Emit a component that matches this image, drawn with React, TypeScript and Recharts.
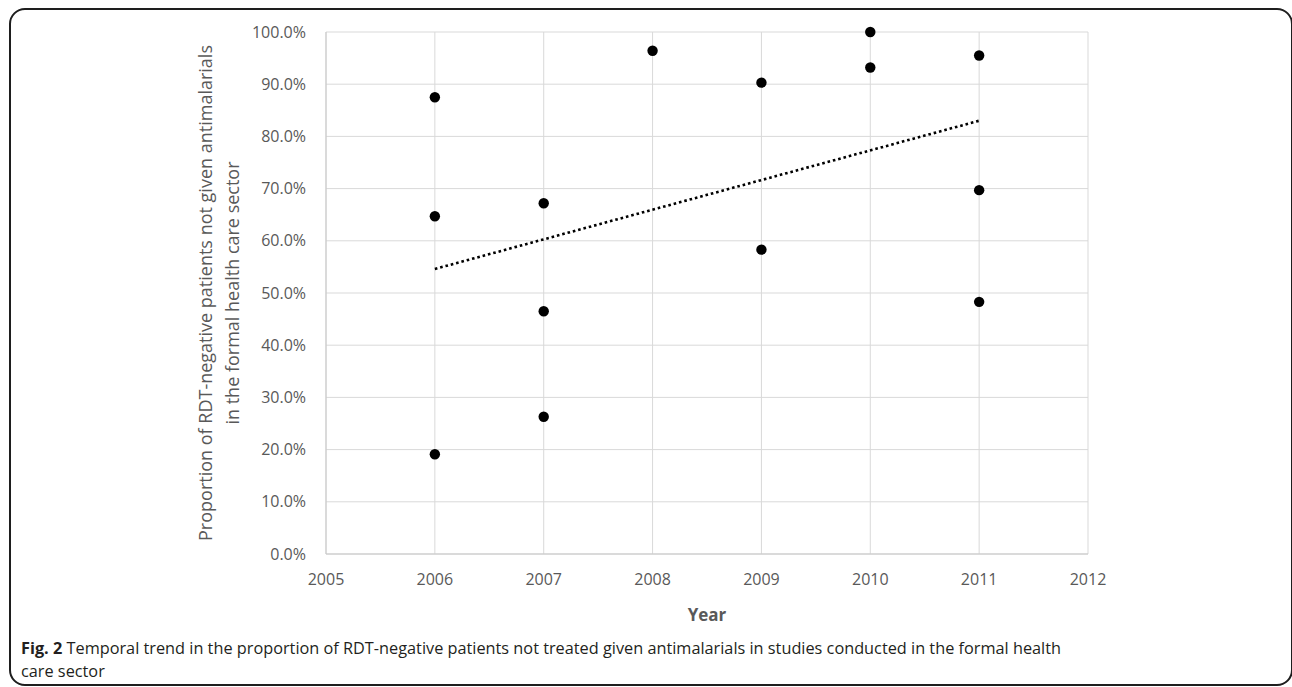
import React from 'react';
import { ScatterChart, Scatter, XAxis, YAxis, CartesianGrid } from 'recharts';

const years = [2005, 2006, 2007, 2008, 2009, 2010, 2011, 2012];
const percentTicks = [0, 10, 20, 30, 40, 50, 60, 70, 80, 90, 100];
const studyYears = [2006, 2006, 2006, 2007, 2007, 2007, 2008, 2009, 2009, 2010, 2010, 2011, 2011, 2011];
const proportions = [87.5, 64.7, 19.1, 67.2, 46.5, 26.3, 96.4, 90.3, 58.3, 100.0, 93.2, 95.5, 69.7, 48.3];
const trendYears = [2006, 2011];
const trendValues = [54.6, 83.0];

const yTitleLine1 = 'Proportion of RDT-negative patients not given antimalarials';
const yTitleLine2 = 'in the formal health care sector';
const xTitle = 'Year';
const captionBold = 'Fig. 2';
const captionLine1 = ' Temporal trend in the proportion of RDT-negative patients not treated given antimalarials in studies conducted in the formal health';
const captionLine2 = 'care sector';

const points = studyYears.map((x, i) => ({ x, y: proportions[i] }));
const trend = trendYears.map((x, i) => ({ x, y: trendValues[i] }));

const FONT = "'Open Sans', sans-serif";
const GREY_TEXT = '#595959';

const YTitle = (props: any) => {
  const vb = props.viewBox || {};
  const cy = (vb.y || 0) + (vb.height || 0) / 2;
  const x1 = 205;
  const x2 = 232;
  return (
    <g>
      <text
        x={x1}
        y={cy}
        transform={`rotate(-90 ${x1} ${cy})`}
        textAnchor="middle"
        dominantBaseline="central"
        fill={GREY_TEXT}
        fontSize={18}
        fontFamily={FONT}
      >
        {yTitleLine1}
      </text>
      <text
        x={x2}
        y={cy}
        transform={`rotate(-90 ${x2} ${cy})`}
        textAnchor="middle"
        dominantBaseline="central"
        fill={GREY_TEXT}
        fontSize={18}
        fontFamily={FONT}
      >
        {yTitleLine2}
      </text>
    </g>
  );
};

const XTitle = (props: any) => {
  const vb = props.viewBox || {};
  const cx = (vb.x || 0) + (vb.width || 0) / 2;
  return (
    <text
      x={cx}
      y={621}
      textAnchor="middle"
      fill={GREY_TEXT}
      fontSize={17}
      fontWeight="bold"
      fontFamily={FONT}
    >
      {xTitle}
    </text>
  );
};

const Dot = (props: any) => <circle cx={props.cx} cy={props.cy} r={5.2} fill="#000" />;
const NoDot = () => <g />;

export default function App() {
  return (
    <div style={{ position: 'absolute', left: 0, top: 0, width: 1292, height: 687, background: '#fff', overflow: 'hidden' }}>
      <div
        style={{
          position: 'absolute',
          left: 9,
          top: 8,
          width: 1284,
          height: 678,
          boxSizing: 'border-box',
          border: '2px solid #1e1e1e',
          borderRadius: 16,
        }}
      />
      <div style={{ position: 'absolute', left: 0, top: 0 }}>
        <ScatterChart width={1292} height={640} margin={{ top: 32, right: 204, left: 0, bottom: 0 }}>
          <CartesianGrid stroke="#d9d9d9" strokeWidth={1} />
          <XAxis
            type="number"
            dataKey="x"
            domain={[2005, 2012]}
            ticks={years}
            interval={0}
            height={86}
            tickSize={0}
            tickMargin={20}
            axisLine={{ stroke: '#c8c8c8' }}
            tick={{ fill: GREY_TEXT, fontSize: 16, fontFamily: FONT }}
            label={XTitle}
          />
          <YAxis
            type="number"
            dataKey="y"
            domain={[0, 100]}
            ticks={percentTicks}
            interval={0}
            width={326}
            tickSize={0}
            tickMargin={20}
            axisLine={{ stroke: '#c8c8c8' }}
            tickFormatter={(v: number) => `${v.toFixed(1)}%`}
            tick={{ fill: GREY_TEXT, fontSize: 16, fontFamily: FONT }}
            label={YTitle}
          />
          <Scatter
            data={trend}
            line={{ stroke: '#000', strokeWidth: 2.6, strokeDasharray: '2.6 2.9' }}
            shape={NoDot}
            isAnimationActive={false}
          />
          <Scatter data={points} shape={Dot} fill="#000" isAnimationActive={false} />
        </ScatterChart>
      </div>
      <div
        style={{
          position: 'absolute',
          left: 21,
          top: 637,
          fontFamily: FONT,
          fontSize: 16.3,
          lineHeight: '23px',
          color: '#231f20',
          whiteSpace: 'nowrap',
        }}
      >
        <span style={{ fontWeight: 'bold' }}>{captionBold}</span>
        {captionLine1}
        <br />
        {captionLine2}
      </div>
    </div>
  );
}
